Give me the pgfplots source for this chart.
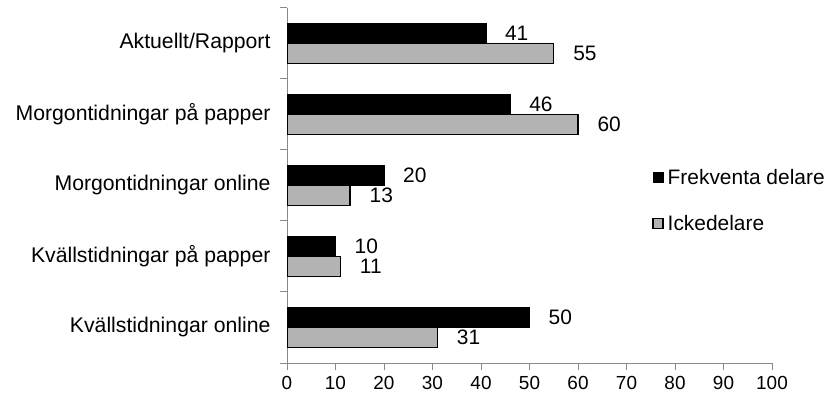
\documentclass[border=0pt]{standalone}
\usepackage{fontspec}
\setmainfont{Liberation Sans}
\usepackage{pgfplots}
\pgfplotsset{compat=1.18}
\definecolor{barg}{RGB}{179,179,179}
\definecolor{axg}{RGB}{137,137,137}
\begin{document}
\begin{tikzpicture}
\useasboundingbox (0,0) rectangle (831bp,403bp);
\begin{axis}[at={(287bp,40bp)}, anchor=south west, scale only axis,
  width=485bp, height=355bp,
  xmin=0, xmax=100, ymin=-0.5, ymax=4.5,
  axis lines*=left, axis line style={axg, line width=1bp},
  tick align=outside, major tick length=7bp,
  tick style={axg, line width=1bp},
  xtick={0,10,...,100},
  ytick={-0.5,0.5,1.5,2.5,3.5,4.5}, yticklabels={},
  extra y ticks={0,1,2,3,4},
  extra y tick labels={Kvällstidningar online, Kvällstidningar på papper, Morgontidningar online, Morgontidningar på papper, Aktuellt/Rapport},
  extra y tick style={major tick length=0pt, tick style={draw=none}, yticklabel style={font=\fontsize{21.3}{24}\selectfont, xshift=-13bp}},
  xticklabel style={font=\fontsize{19}{21}\selectfont, yshift=-3bp},
  /pgf/number format/assume math mode=true,
  xbar, bar width=20bp,
  nodes near coords,
  nodes near coords style={font=\fontsize{21}{24}\selectfont, anchor=west, inner sep=0pt, xshift=19bp, text=black},
  legend style={at={(rel axis cs:0.747,0.458)}, anchor=west, draw=none, fill=none,
    font=\fontsize{21}{24}\selectfont, row sep=25bp},
  legend cell align=left,
  legend image code/.code={\draw[#1] (0bp,-5bp) rectangle (10bp,5bp);},
  legend style={nodes={inner xsep=4bp}},
]
\addplot[fill=black, draw=black, bar shift=10bp] coordinates {(50,0) (10,1) (20,2) (46,3) (41,4)};
\addplot[fill=barg, draw=black, line width=1.2bp, bar shift=-10bp] coordinates {(31,0) (11,1) (13,2) (60,3) (55,4)};
\legend{Frekventa delare, Ickedelare}
\end{axis}
\end{tikzpicture}
\end{document}
